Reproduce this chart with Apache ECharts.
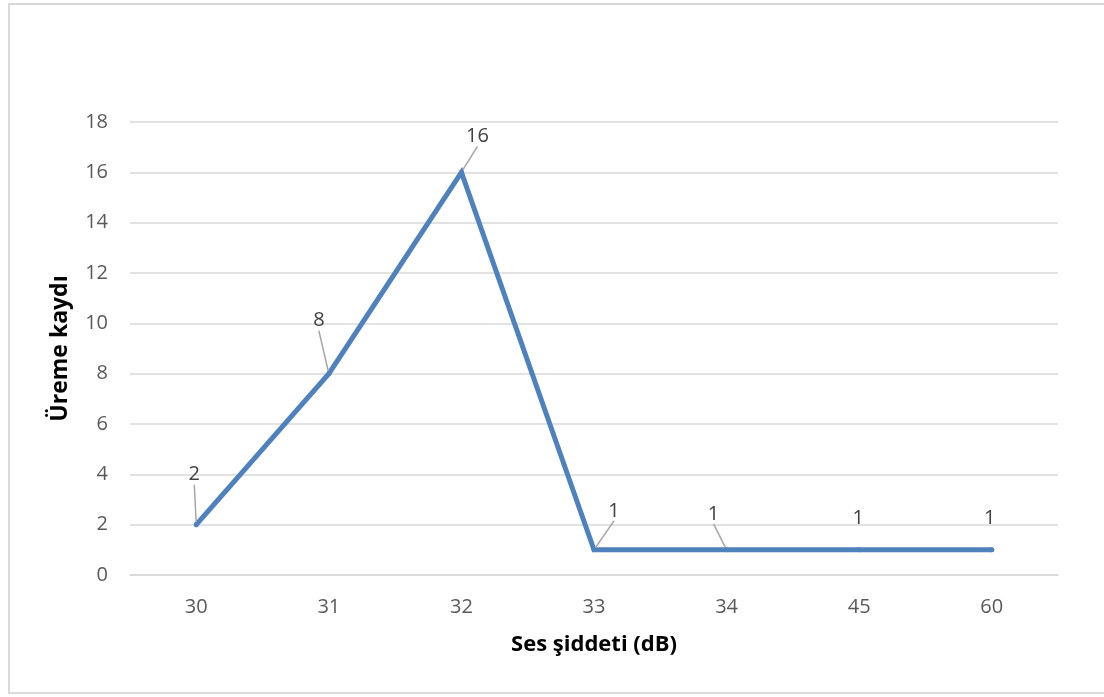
<!DOCTYPE html>
<html>
<head>
<meta charset="utf-8">
<script src="https://cdn.jsdelivr.net/npm/echarts@6/dist/echarts.min.js"></script>
<style>
  html, body { margin: 0; padding: 0; background: #fff; }
  #frame { position: absolute; left: 8px; top: 3px; width: 1110px; height: 691px; border: 2px solid #d9d9d9; box-sizing: border-box; }
  #chart { position: absolute; left: 0; top: 0; width: 1104px; height: 697px; }
</style>
</head>
<body>
<div id="frame"></div>
<div id="chart"></div>
<script>
// Sound level categories (dB) and breeding record counts
const categories = ['30', '31', '32', '33', '34', '45', '60'];
const records = [2, 8, 16, 1, 1, 1, 1];
const yTicks = [0, 2, 4, 6, 8, 10, 12, 14, 16, 18];

// Offsets of each value label from its point (label centre minus point); leader lines where shown
const labelOffsets = [[-2, -50], [-10, -53], [16, -36], [20, -39], [-13, -36], [-1, -32], [-2, -32]];
const showLeader = [true, true, true, true, true, false, false];

const FONT = '"Open Sans", "Liberation Sans", sans-serif';

const chart = echarts.init(document.getElementById('chart'), null, { renderer: 'canvas' });
chart.setOption({
  animation: false,
  backgroundColor: 'transparent',
  grid: { left: 130, right: 46, top: 122, bottom: 122 },
  xAxis: {
    type: 'category',
    data: categories,
    boundaryGap: true,
    name: 'Ses şiddeti (dB)',
    nameLocation: 'middle',
    nameGap: 59,
    nameTextStyle: { fontFamily: FONT, fontWeight: 'bold', fontSize: 22, color: '#000' },
    axisLine: { show: true, lineStyle: { color: '#d9d9d9', width: 1.5 } },
    axisTick: { show: false },
    axisLabel: { fontFamily: FONT, fontSize: 20, color: '#595959', margin: 22 }
  },
  yAxis: {
    type: 'value',
    min: yTicks[0],
    max: yTicks[yTicks.length - 1],
    interval: 2,
    name: 'Üreme kaydı',
    nameLocation: 'middle',
    nameGap: 58,
    nameRotate: 90,
    nameTextStyle: { fontFamily: FONT, fontWeight: 'bold', fontSize: 23, color: '#000' },
    axisLine: { show: false },
    axisTick: { show: false },
    axisLabel: { fontFamily: FONT, fontSize: 20, color: '#595959', margin: 22 },
    splitLine: { lineStyle: { color: '#d9d9d9', width: 1.5 } }
  },
  series: [{
    type: 'line',
    data: records.map((v, i) => ({ value: v, labelLine: { show: showLeader[i] } })),
    symbol: 'circle',
    symbolSize: 5,
    showSymbol: true,
    itemStyle: { color: '#4f81bd' },
    lineStyle: { color: '#4f81bd', width: 5, cap: 'round', join: 'miter' },
    label: {
      show: true,
      position: 'inside',
      fontFamily: FONT,
      fontSize: 20,
      color: '#404040'
    },
    labelLine: { show: true, lineStyle: { color: '#a6a6a6', width: 1.5 } },
    labelLayout: function (params) {
      const o = labelOffsets[params.dataIndex];
      return { dx: o[0], dy: o[1] };
    }
  }]
});
</script>
</body>
</html>
